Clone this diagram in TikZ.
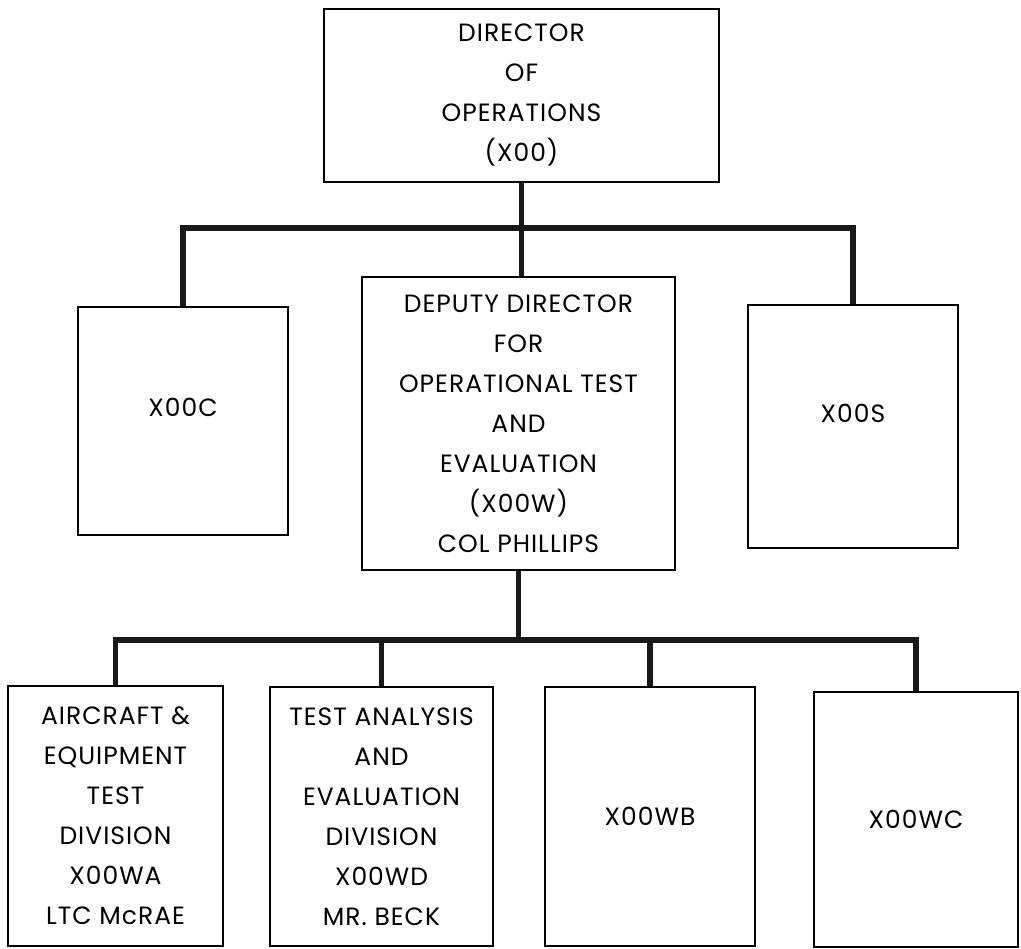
\documentclass[tikz,border=0pt]{standalone}
\usepackage{fontspec}
\setmainfont{Poppins}[LetterSpace=4]
\begin{document}
\begin{tikzpicture}[x=1pt,y=-1pt,
  box/.style={draw=black, line width=2.8pt, fill=white, rectangle, inner sep=0pt, align=center,
    font={\fontsize{25}{40}\selectfont}},
  conn/.style={draw=black!90, line width=5.5pt},
  lbl/.style={font={\fontsize{25}{40}\selectfont}}
]
\useasboundingbox[fill=white] (0,0) rectangle (1021,949);
% top level
\node[box, minimum width=395pt, minimum height=173pt] (top) at (521.5,95.5) {DIRECTOR\\OF\\OPERATIONS\\(X00)};
% second level
\node[box, minimum width=210pt, minimum height=228pt, label={[lbl, yshift=14pt]center:X00C}] (c) at (183,421) {};
\node[box, minimum width=313pt, minimum height=293pt] (dep) at (518.5,423.5) {DEPUTY DIRECTOR\\FOR\\OPERATIONAL TEST\\AND\\EVALUATION\\(X00W)\\COL PHILLIPS};
\node[box, minimum width=210pt, minimum height=243pt, label={[lbl, yshift=13pt]center:X00S}] (s) at (853,426.5) {};
% third level
\node[box, minimum width=215pt, minimum height=260pt] (wa) at (115.5,816) {AIRCRAFT \&\\EQUIPMENT\\TEST\\DIVISION\\X00WA\\LTC McRAE};
\node[box, minimum width=223pt, minimum height=259pt] (wd) at (381.5,816.5) {TEST ANALYSIS\\AND\\EVALUATION\\DIVISION\\X00WD\\MR. BECK};
\node[box, minimum width=210pt, minimum height=259pt] (wb) at (650,816.5) {X00WB};
\node[box, minimum width=204pt, minimum height=255pt] (wc) at (916,819.5) {X00WC};
% bars
\coordinate (bara) at (0,228);
\coordinate (barb) at (0,640);
\draw[conn] (top.south) -- (top.south |- dep.north);
\draw[conn] (c.north) -- (c.north |- bara) -- (s.north |- bara) -- (s.north);
\draw[conn] (dep.south) -- (dep.south |- barb);
\draw[conn] (wa.north) -- (wa.north |- barb) -- (wc.north |- barb) -- (wc.north);
\draw[conn] (wd.north) -- (wd.north |- barb);
\draw[conn] (wb.north) -- (wb.north |- barb);
\end{tikzpicture}
\end{document}
